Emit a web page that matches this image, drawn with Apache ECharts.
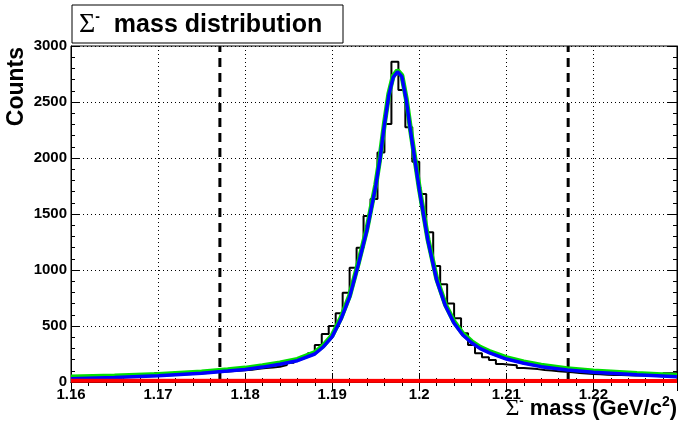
<!DOCTYPE html>
<html>
<head>
<meta charset="utf-8">
<script src="https://cdn.jsdelivr.net/npm/echarts@6/dist/echarts.min.js"></script>
<style>
  html, body { margin: 0; padding: 0; background: #fff; }
  #chart { width: 679px; height: 424px; }
</style>
</head>
<body>
<div id="chart"></div>
<script>
// histogram: bins of 0.0008 GeV starting at 1.16
const binStart = 1.16;
const binWidth = 0.0008;
const counts = [
  50, 48, 55, 54, 50, 55, 50, 55, 60, 55,
  62, 60, 78, 70, 87, 75, 75, 80, 82, 85,
  90, 92, 95, 100, 105, 110, 118, 125, 130, 137,
  152, 172, 196, 226, 256, 330, 428, 500, 613, 797,
  1020, 1199, 1482, 1634, 2048, 2304, 2860, 2607, 2274, 1967,
  1679, 1336, 1036, 872, 702, 569, 435, 330, 256, 220,
  196, 160, 155, 150, 125, 120, 115, 108, 102, 97,
  92, 86, 80, 76, 72, 70, 65, 62, 62, 60,
  58, 60, 55, 55, 52, 78, 78
];

// fit curves
const fitX = [
  1.1600, 1.1650, 1.1700, 1.1750, 1.1780, 1.1800, 1.1820, 1.1840, 1.1860, 1.1880,
  1.1890, 1.1900, 1.1910, 1.1920, 1.1930, 1.1940, 1.1950, 1.1955, 1.1960, 1.1965,
  1.1970, 1.1975, 1.1980, 1.1985, 1.1990, 1.1995, 1.2000, 1.2010, 1.2020, 1.2030,
  1.2040, 1.2050, 1.2060, 1.2070, 1.2080, 1.2100, 1.2120, 1.2140, 1.2170, 1.2200,
  1.2250, 1.2296
];
const signalY = [
  30, 40, 55, 78, 98, 112, 133, 158, 190, 250,
  315, 405, 560, 760, 1050, 1360, 1750, 2000, 2300, 2560,
  2720, 2770, 2726, 2520, 2240, 1980, 1720, 1260, 910, 680,
  525, 420, 350, 298, 262, 205, 167, 137, 107, 87,
  64, 47
];
const totalY = [
  44, 53, 67, 90, 110, 124, 145, 170, 202, 262,
  327, 417, 572, 772, 1062, 1372, 1762, 2012, 2312, 2572,
  2732, 2782, 2738, 2532, 2252, 1992, 1732, 1272, 922, 692,
  537, 432, 362, 310, 274, 217, 179, 149, 119, 99,
  76, 59
];
const bgX = [1.16, 1.2296];
const bgY = [12, 9];

// selection window
const cutLines = [1.1771, 1.2171];

const FONT = 'Liberation Sans';

const histData = counts.map((c, i) => [binStart + i * binWidth, c]);
histData.push([binStart + counts.length * binWidth, counts[counts.length - 1]]);
const pairs = (xs, ys) => xs.map((x, i) => [x, ys[i]]);

const axisCommon = {
  type: 'value',
  axisLine: { show: true, lineStyle: { color: '#000', width: 1 } },
  axisTick: { show: true, inside: true, length: 9, lineStyle: { color: '#000', width: 1 } },
  minorTick: { show: true, splitNumber: 5, length: 4, lineStyle: { color: '#000', width: 1 } },
};

const cutSeries = cutLines.map(x => ({
  type: 'line',
  data: [[x, 0], [x, 3000]],
  showSymbol: false,
  silent: true,
  lineStyle: { color: '#000', type: [9, 6], width: 3 },
  z: 3
}));

const chart = echarts.init(document.getElementById('chart'));
chart.setOption({
  animation: false,
  backgroundColor: '#fff',
  grid: {
    left: 71, right: 2, top: 46, bottom: 42,
    show: true, borderColor: '#000', borderWidth: 1,
    outerBoundsMode: 'none'
  },
  xAxis: [{
    ...axisCommon,
    min: 1.16, max: 1.2296, interval: 0.01,
    axisLabel: {
      color: '#000', fontFamily: FONT, fontWeight: 'bold', fontSize: 15, margin: 5,
      showMaxLabel: false,
      formatter: v => String(Math.round(v * 100) / 100)
    },
    splitLine: { show: true, lineStyle: { color: '#000', type: [1, 3], width: 1 } }
  }, {
    ...axisCommon,
    position: 'top',
    min: 1.16, max: 1.2296, interval: 0.01,
    axisLabel: { show: false },
    splitLine: { show: false }
  }],
  yAxis: [{
    ...axisCommon,
    min: 0, max: 3000, interval: 500,
    axisLabel: {
      color: '#000', fontFamily: FONT, fontWeight: 'bold', fontSize: 15, margin: 4,
      formatter: v => String(v)
    },
    splitLine: { show: true, lineStyle: { color: '#000', type: [1, 3], width: 1 } }
  }, {
    ...axisCommon,
    position: 'right',
    min: 0, max: 3000, interval: 500,
    axisLabel: { show: false },
    splitLine: { show: false }
  }],
  series: [{
    name: 'data',
    type: 'line',
    step: 'end',
    data: histData,
    showSymbol: false,
    lineStyle: { color: '#000', width: 2 }
  },
  ...cutSeries,
  {
    name: 'total',
    type: 'line',
    data: pairs(fitX, totalY),
    showSymbol: false,
    lineStyle: { color: '#00e000', width: 5 },
    z: 4
  }, {
    name: 'signal',
    type: 'line',
    data: pairs(fitX, signalY),
    showSymbol: false,
    lineStyle: { color: '#0000ff', width: 3.5 },
    z: 5
  }, {
    name: 'background',
    type: 'line',
    data: pairs(bgX, bgY),
    showSymbol: false,
    lineStyle: { color: '#ff0000', width: 4 },
    z: 6
  }],
  graphic: [{
    type: 'rect',
    shape: { x: 72, y: 5, width: 271, height: 38 },
    style: { fill: '#fff', stroke: '#000', lineWidth: 1 },
    z: 100
  }, {
    type: 'text',
    x: 79, y: 25,
    z: 101,
    style: {
      text: '{s|Σ}{m|-}{t|  mass distribution}',
      verticalAlign: 'middle',
      rich: {
        s: { fontFamily: 'Liberation Serif', fontSize: 28, fill: '#000', lineHeight: 30 },
        m: { fontFamily: FONT, fontWeight: 'bold', fontSize: 14, fill: '#000', verticalAlign: 'top', lineHeight: 30 },
        t: { fontFamily: FONT, fontWeight: 'bold', fontSize: 25, fill: '#000', lineHeight: 30 }
      }
    }
  }, {
    type: 'text',
    x: 28, y: 47,
    rotation: Math.PI / 2,
    style: {
      text: 'Counts',
      font: 'bold 23px ' + FONT,
      fill: '#000',
      align: 'right',
      verticalAlign: 'bottom'
    }
  }, {
    type: 'text',
    x: 677, y: 409,
    style: {
      text: '{s|Σ}{m|-}{t| mass (GeV/c}{p|2}{t|)}',
      align: 'right',
      verticalAlign: 'middle',
      rich: {
        s: { fontFamily: 'Liberation Serif', fontSize: 24, fill: '#000', lineHeight: 28 },
        m: { fontFamily: FONT, fontWeight: 'bold', fontSize: 13, fill: '#000', verticalAlign: 'top', lineHeight: 28 },
        t: { fontFamily: FONT, fontWeight: 'bold', fontSize: 22, fill: '#000', lineHeight: 28 },
        p: { fontFamily: FONT, fontWeight: 'bold', fontSize: 14, fill: '#000', verticalAlign: 'top', lineHeight: 28 }
      }
    }
  }]
});
</script>
</body>
</html>
